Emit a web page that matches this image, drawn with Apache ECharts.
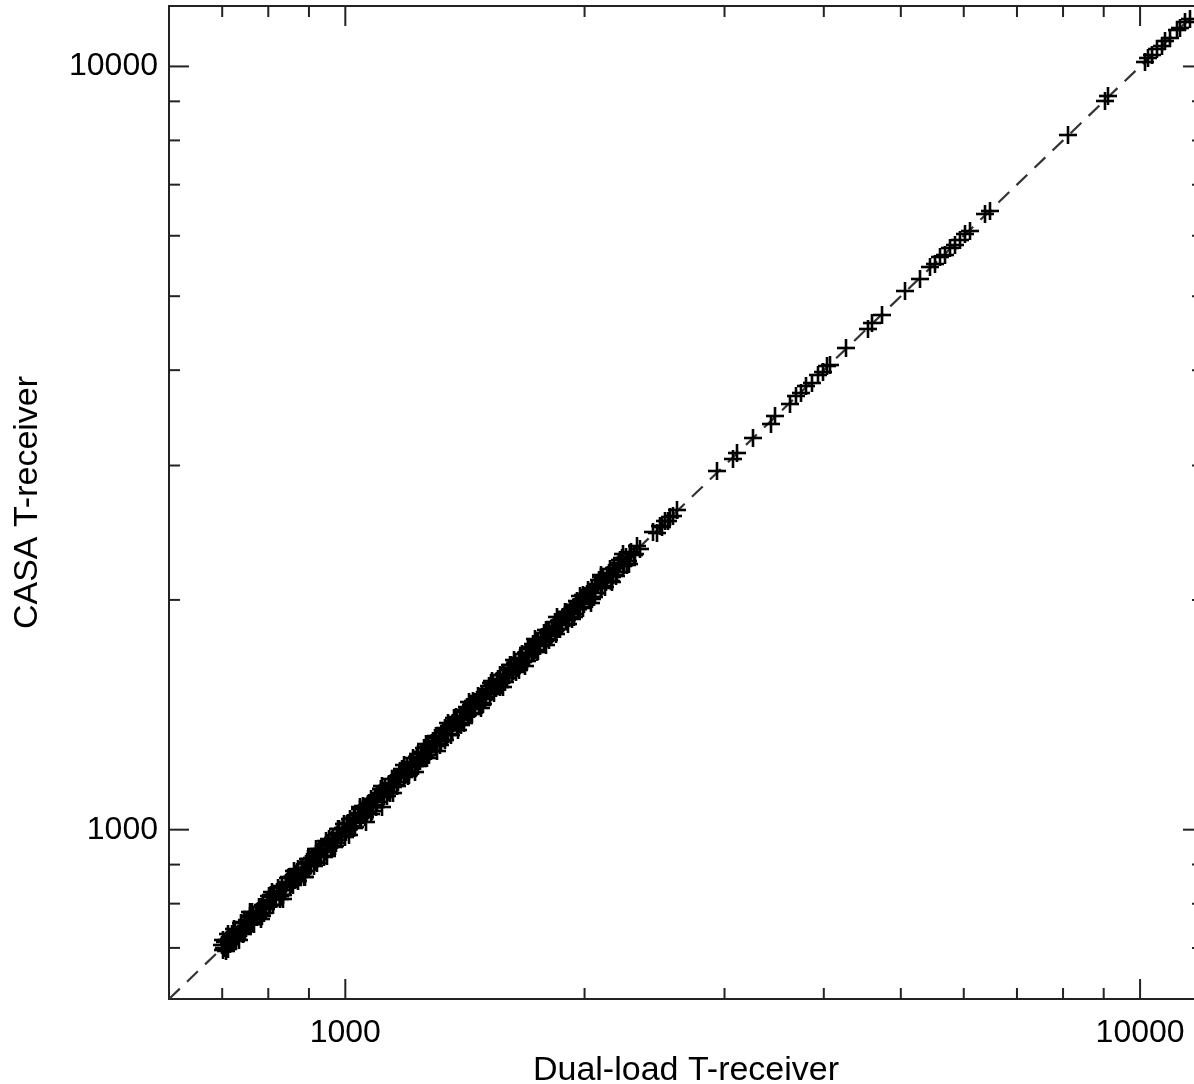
<!DOCTYPE html>
<html><head><meta charset="utf-8">
<script src="https://cdn.jsdelivr.net/npm/echarts@6/dist/echarts.min.js"></script>
<style>html,body{margin:0;padding:0;background:#fff}#c{width:1194px;height:1084px}</style>
</head><body><div id="c"></div>
<script>
// Dense band of points (Dual-load T-receiver vs CASA T-receiver)
const xDense = [700,704,709,713,718,722,727,731,736,741,746,751,756,761,766,771,777,782,787,793,798,804,810,815,821,827,833,839,845,851,857,864,870,876,883,889,896,902,909,916,923,930,936,943,951,958,965,972,979,987,994,1002,1009,1017,1025,1032,1040,1048,1056,1063,1064,1072,1080,1089,1097,1105,1111,1114,1122,1131,1140,1149,1157,1166,1175,1185,1194,1203,1212,1222,1231,1241,1251,1260,1270,1280,1290,1300,1310,1321,1331,1342,1352,1363,1373,1384,1395,1406,1417,1428,1440,1451,1463,1474,1486,1498,1510,1522,1534,1546,1558,1571,1583,1596,1609,1621,1634,1647,1661,1674,1687,1701,1715,1728,1742,1756,1770,1785,1799,1814,1828,1843,1858,1873,1888,1903,1918,1934,1949,1965,1981,1997,2013,2029,2046,2062,2079,2095,2112,2129,2146,2163,2181,2198,2216,2234,2252,2270,2290,2310,2330,2347];
const yDense = [706,699,716,708,722,716,735,727,741,734,757,748,760,752,774,768,783,775,797,789,806,796,820,811,829,819,845,834,853,842,866,858,881,869,890,882,908,895,918,907,935,923,944,935,962,951,975,962,991,980,1004,992,1021,1008,1036,1024,1052,1039,1067,1023,1053,1085,1071,1100,1088,1118,1071,1103,1135,1121,1152,1139,1170,1155,1188,1174,1207,1192,1226,1211,1244,1229,1265,1249,1284,1268,1305,1288,1325,1308,1346,1329,1367,1350,1389,1371,1411,1392,1433,1414,1456,1437,1479,1460,1503,1483,1527,1507,1551,1531,1576,1555,1601,1580,1627,1605,1652,1631,1679,1657,1706,1684,1734,1711,1761,1739,1790,1767,1819,1796,1848,1825,1878,1854,1909,1884,1939,1915,1970,1946,2002,1977,2035,2009,2068,2042,2101,2075,2135,2108,2169,2142,2204,2176,2239,2213,2275,2249,2312,2288,2352,2335];
// Additional points in the band, at various distances from the diagonal
const xBand = [702,711,720,729,739,748,758,768,779,790,801,812,824,836,848,860,873,886,899,913,926,940,954,968,983,998,1013,1028,1044,1060,1076,1093,1110,1127,1144,1162,1180,1198,1217,1236,1255,1275,1295,1315,1336,1357,1378,1400,1422,1445,1468,1491,1515,1539,1564,1589,1614,1640,1667,1694,1721,1749,1777,1806,1835,1865,1895,1926,1957,1989,2021,2054,2087,2121,2156,2191,2226,2262];
const yBand = [716,697,729,715,754,737,771,752,793,778,818,797,838,820,864,846,889,868,916,896,943,922,972,950,1002,979,1032,1009,1063,1040,1096,1072,1131,1106,1165,1140,1202,1175,1240,1212,1278,1251,1319,1290,1361,1331,1404,1373,1448,1418,1495,1463,1543,1510,1593,1559,1644,1609,1698,1662,1753,1716,1810,1772,1869,1830,1930,1890,1993,1951,2058,2015,2125,2081,2196,2150,2267,2219];
const xFill1 = [706,716,724,733,743,753,763,774,784,795,807,818,830,842,854,867,880,893,906,919,933,947,961,976,990,1005,1020,1036,1052,1068,1085,1101,1118,1136,1153,1171,1189,1207,1226,1246,1265,1285,1305,1326,1346,1367,1389,1411,1434,1456,1479,1503,1527,1551,1576,1601,1627,1653,1680,1707,1735,1763,1791,1820,1850,1880,1910,1941,1973,2005,2037,2070,2104,2138,2173,2208,2244,2280,2318];
const yFill1 = [712,709,732,729,738,762,757,781,791,788,815,812,822,851,849,876,871,901,901,929,925,956,953,985,983,1016,1011,1046,1044,1079,1076,1112,1108,1147,1144,1183,1179,1219,1215,1258,1254,1298,1294,1339,1334,1381,1377,1425,1421,1471,1466,1518,1513,1567,1562,1617,1612,1670,1665,1724,1719,1781,1775,1838,1833,1899,1893,1960,1955,2025,2019,2091,2085,2159,2153,2230,2224,2303,2297];
const xFill2 = [707,725,744,764,785,806,828,850,873,897,921,946,971,997,1024,1052,1080,1109,1139,1170,1201,1233,1267,1301,1336,1372,1409,1447,1486,1526,1567,1610,1653,1698,1743,1790,1839,1888,1939,1991,2045,2100,2157,2215,2275];
const yFill2 = [693,740,729,780,770,822,812,867,856,915,903,965,952,1017,1004,1073,1059,1131,1117,1193,1178,1257,1242,1327,1310,1399,1381,1476,1457,1556,1536,1642,1621,1732,1709,1826,1803,1926,1901,2031,2005,2142,2115,2259,2231];
const xFill3 = [701,714,726,738,750,762,775,788,801,814,828,842,856,870,885,900,915,930,945,961,977,993,1010,1027,1044,1061,1079,1097,1115,1134,1153,1172,1192,1212,1232,1253,1274,1295,1317,1339,1361,1384,1407,1431,1455,1479,1504,1529,1555,1581,1607,1634,1662,1690,1718,1747,1776,1806,1836,1867,1898,1930,1962,1995,2028,2062,2097,2132,2168,2204,2241,2279];
const yFill3 = [695,720,720,744,744,768,769,794,795,821,821,849,849,877,878,907,908,938,937,969,969,1001,1002,1035,1036,1070,1070,1106,1106,1143,1144,1181,1182,1222,1222,1263,1264,1305,1306,1350,1350,1395,1396,1442,1443,1491,1492,1541,1543,1594,1594,1647,1649,1703,1704,1761,1762,1820,1821,1882,1883,1945,1946,2011,2012,2078,2080,2149,2151,2222,2223,2297];
const xFill4 = [712,735,759,783,808,834,861,889,918,948,978,1010,1043,1076,1111,1147,1184,1222,1262,1303,1345,1388,1433,1480,1528,1577,1628,1681,1735,1791,1849,1909,1971,2035,2100,2168,2238];
const yFill4 = [731,716,779,763,829,812,883,866,942,923,1003,984,1070,1048,1140,1117,1215,1190,1295,1269,1380,1352,1470,1442,1568,1536,1670,1637,1780,1744,1897,1859,2022,1982,2155,2112,2296];
// Sparse points at higher temperatures
const xSparse = [2440,2465,2487,2505,2523,2545,2560,2585,2613,2935,3073,3109,3256,3431,3471,3626,3689,3743,3798,3865,3933,3990,4036,4071,4265,4546,4600,4734,5060,5285,5441,5521,5601,5683,5767,5851,5936,6023,6111,6381,6473,8121,9041,9120,10150,10240,10360,10510,10670,10760,10910,11140,11240,11400,11570];
const ySparse = [2452,2448,2500,2492,2535,2540,2571,2578,2625,2947,3060,3120,3262,3405,3480,3610,3700,3735,3810,3850,3945,3980,4050,4060,4280,4530,4615,4720,5075,5270,5460,5510,5620,5670,5780,5840,5920,6040,6095,6400,6460,8140,9020,9140,10130,10260,10340,10530,10650,10790,10890,11160,11220,11420,11550];
// Axis
const axisMin = 600, axisMax = 12000;
const tickValues = [700,800,900,1000,2000,3000,4000,5000,6000,7000,8000,9000,10000];
const majorTicks = [1000,10000];
const xTitle = 'Dual-load T-receiver';
const yTitle = 'CASA T-receiver';

const FONT = "'Liberation Sans', Arial, sans-serif";
const pair = (xs, ys) => xs.map((x,i)=>[x,ys[i]]);
const points = pair(xDense,yDense).concat(pair(xBand,yBand), pair(xFill1,yFill1), pair(xFill2,yFill2),
  pair(xFill3,yFill3), pair(xFill4,yFill4), pair(xSparse,ySparse));
const labelFmt = v => { const r = Math.round(v); return majorTicks.indexOf(r) >= 0 ? String(r) : ''; };
const ARM = 9;

const chart = echarts.init(document.getElementById('c'), null, {renderer:'canvas'});
chart.setOption({
  animation:false,
  backgroundColor:'#fff',
  grid:{left:169, top:6, width:1034, height:993, show:true, borderColor:'#222', borderWidth:2, backgroundColor:'transparent', containLabel:false, outerBoundsMode:'none'},
  xAxis:{type:'log', logBase:10, min:axisMin, max:axisMax,
    name:xTitle, nameLocation:'middle', nameGap:48,
    nameTextStyle:{fontSize:34, fontFamily:FONT, color:'#000'},
    axisLine:{show:false}, axisTick:{show:false}, splitLine:{show:false}, minorTick:{show:false},
    axisLabel:{fontSize:32, fontFamily:FONT, color:'#000', margin:18, showMinLabel:false, showMaxLabel:false, formatter:labelFmt}},
  yAxis:{type:'log', logBase:10, min:axisMin, max:axisMax,
    name:yTitle, nameLocation:'middle', nameGap:124,
    nameTextStyle:{fontSize:34, fontFamily:FONT, color:'#000'},
    axisLine:{show:false}, axisTick:{show:false}, splitLine:{show:false}, minorTick:{show:false},
    axisLabel:{fontSize:32, fontFamily:FONT, color:'#000', margin:11, padding:[5,0,0,0], showMinLabel:false, showMaxLabel:false, formatter:labelFmt}},
  series:[
    {type:'line', data:[[axisMin,axisMin],[axisMax,axisMax]], symbol:'none', silent:true,
     lineStyle:{type:[15,10], color:'#333', width:2.2}, z:1},
    {type:'custom', data:points, silent:true, z:2,
     renderItem:function(params, api){
       const p = api.coord([api.value(0), api.value(1)]);
       const cx = Math.round(p[0]), cy = Math.round(p[1]);
       const st = {stroke:'#000', lineWidth:2.6};
       return {type:'group', children:[
         {type:'line', shape:{x1:cx-ARM, y1:cy, x2:cx+ARM, y2:cy}, style:st},
         {type:'line', shape:{x1:cx, y1:cy-ARM, x2:cx, y2:cy+ARM}, style:st}
       ]};
     }},
    {type:'custom', silent:true, clip:false, z:3,
     data:tickValues.map(v=>[v,v]),
     renderItem:function(params, api){
       const v = api.value(0);
       const L = majorTicks.indexOf(v) >= 0 ? 20 : 11;
       const cs = params.coordSys;
       const left = cs.x, right = cs.x + cs.width, top = cs.y, bottom = cs.y + cs.height;
       const px = api.coord([v, axisMin])[0];
       const py = api.coord([axisMin, v])[1];
       const st = {stroke:'#222', lineWidth:2};
       return {type:'group', children:[
         {type:'line', shape:{x1:px, y1:bottom, x2:px, y2:bottom-L}, style:st},
         {type:'line', shape:{x1:px, y1:top, x2:px, y2:top+L}, style:st},
         {type:'line', shape:{x1:left, y1:py, x2:left+L, y2:py}, style:st},
         {type:'line', shape:{x1:right, y1:py, x2:right-L, y2:py}, style:st}
       ]};
     }}
  ]
});
</script></body></html>
